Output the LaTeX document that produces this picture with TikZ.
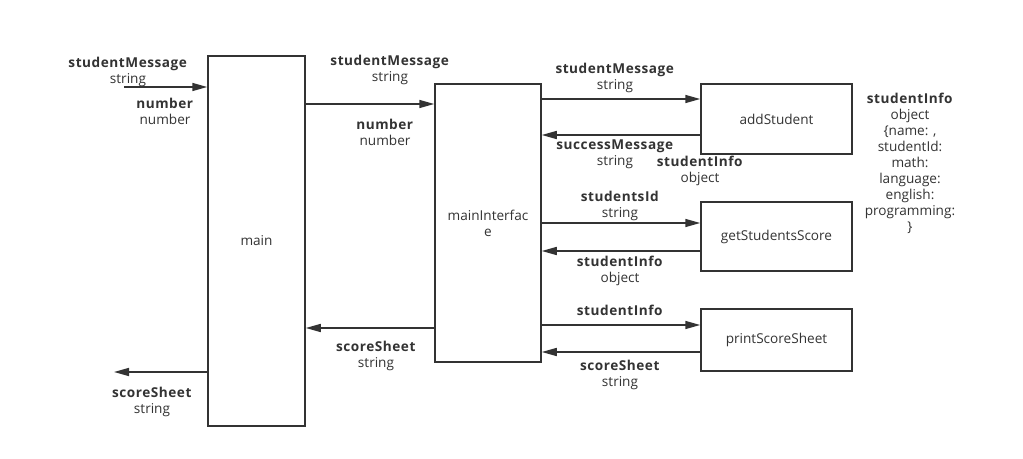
\documentclass[tikz,border=0pt]{standalone}
\usepackage{fontspec}
\setmainfont{Open Sans}[BoldFeatures={LetterSpace=4}]
\usepackage{tikz}
\usetikzlibrary{arrows.meta}

\definecolor{ink}{HTML}{333333}
\tikzset{
	box/.style={draw=ink, line width=1.5pt, fill=white, text=ink},
	arr/.style={draw=ink, line width=1.5pt, -{Triangle[length=15pt,width=8pt]}},
	lbl/.style={text=ink, align=center, inner sep=0pt, yshift=-1.5pt}
}
\newcommand{\msg}[2]{\textbf{#1}\\#2}

\begin{document}
\begin{tikzpicture}[x=1pt, y=-1pt, font=\fontsize{13.6}{16}\selectfont]
	\useasboundingbox[fill=white] (0,0) rectangle (1023,458);

	\node[box, minimum width=97pt, minimum height=370pt] (main) at (256.5,241) {main};
	\node[box, minimum width=106pt, minimum height=278pt, align=center] (mainInterface) at (488,223) {mainInterfac\\e};
	\foreach \n/\y/\h in {addStudent/119/70, getStudentsScore/236.5/69, printScoreSheet/340/62}{
		\node[box, minimum width=151pt, minimum height=\h pt] (\n) at (776.5,\y) {\n};
	}

	\coordinate (in) at (124,87);
	\coordinate (out) at (114,372);
	\draw[arr] (in) -- (main.west |- in);
	\draw[arr] (main.west |- out) -- (out);
	\draw[arr] (main.east |- 0,104) -- (mainInterface.west |- 0,104);
	\draw[arr] (mainInterface.west |- 0,328) -- (main.east |- 0,328);

	\draw[arr] (mainInterface.east |- 0,99) -- (addStudent.west |- 0,99);
	\draw[arr] (addStudent.west |- 0,135) -- (mainInterface.east |- 0,135);
	\draw[arr] (mainInterface.east |- 0,223) -- (getStudentsScore.west |- 0,223);
	\draw[arr] (getStudentsScore.west |- 0,251) -- (mainInterface.east |- 0,251);
	\draw[arr] (mainInterface.east |- 0,325) -- (printScoreSheet.west |- 0,325);
	\draw[arr] (printScoreSheet.west |- 0,352) -- (mainInterface.east |- 0,352);

	\node[lbl] (inMsg) at (128,70) {\msg{studentMessage}{string}};
	\node[lbl] (inNum) at (165,110) {\msg{number}{number}};
	\node[lbl] (outSheet) at (152,400) {\msg{scoreSheet}{string}};
	\node[lbl] (toMsg) at (390,68.5) {\msg{studentMessage}{string}};
	\node[lbl] (toNum) at (385,130.5) {\msg{number}{number}};
	\node[lbl] (backSheet) at (376,354.5) {\msg{scoreSheet}{string}};
	\node[lbl] (addMsg) at (615,76) {\msg{studentMessage}{string}};
	\node[lbl] (addOk) at (615,152.5) {\msg{successMessage}{string}};
	\node[lbl] (addInfo) at (700,169) {\msg{studentInfo}{object}};
	\node[lbl] (getId) at (620,204.5) {\msg{studentsId}{string}};
	\node[lbl] (getInfo) at (620,269) {\msg{studentInfo}{object}};
	\node[lbl] (printInfo) at (620,309) {\textbf{studentInfo}};
	\node[lbl] (printSheet) at (620,373) {\msg{scoreSheet}{string}};
	\node[lbl] (infoDef) at (910,161.5) {\textbf{studentInfo}\\object\\\{name: ,\\studentId:\\math:\\language:\\english:\\programming:\\\}};
\end{tikzpicture}
\end{document}
